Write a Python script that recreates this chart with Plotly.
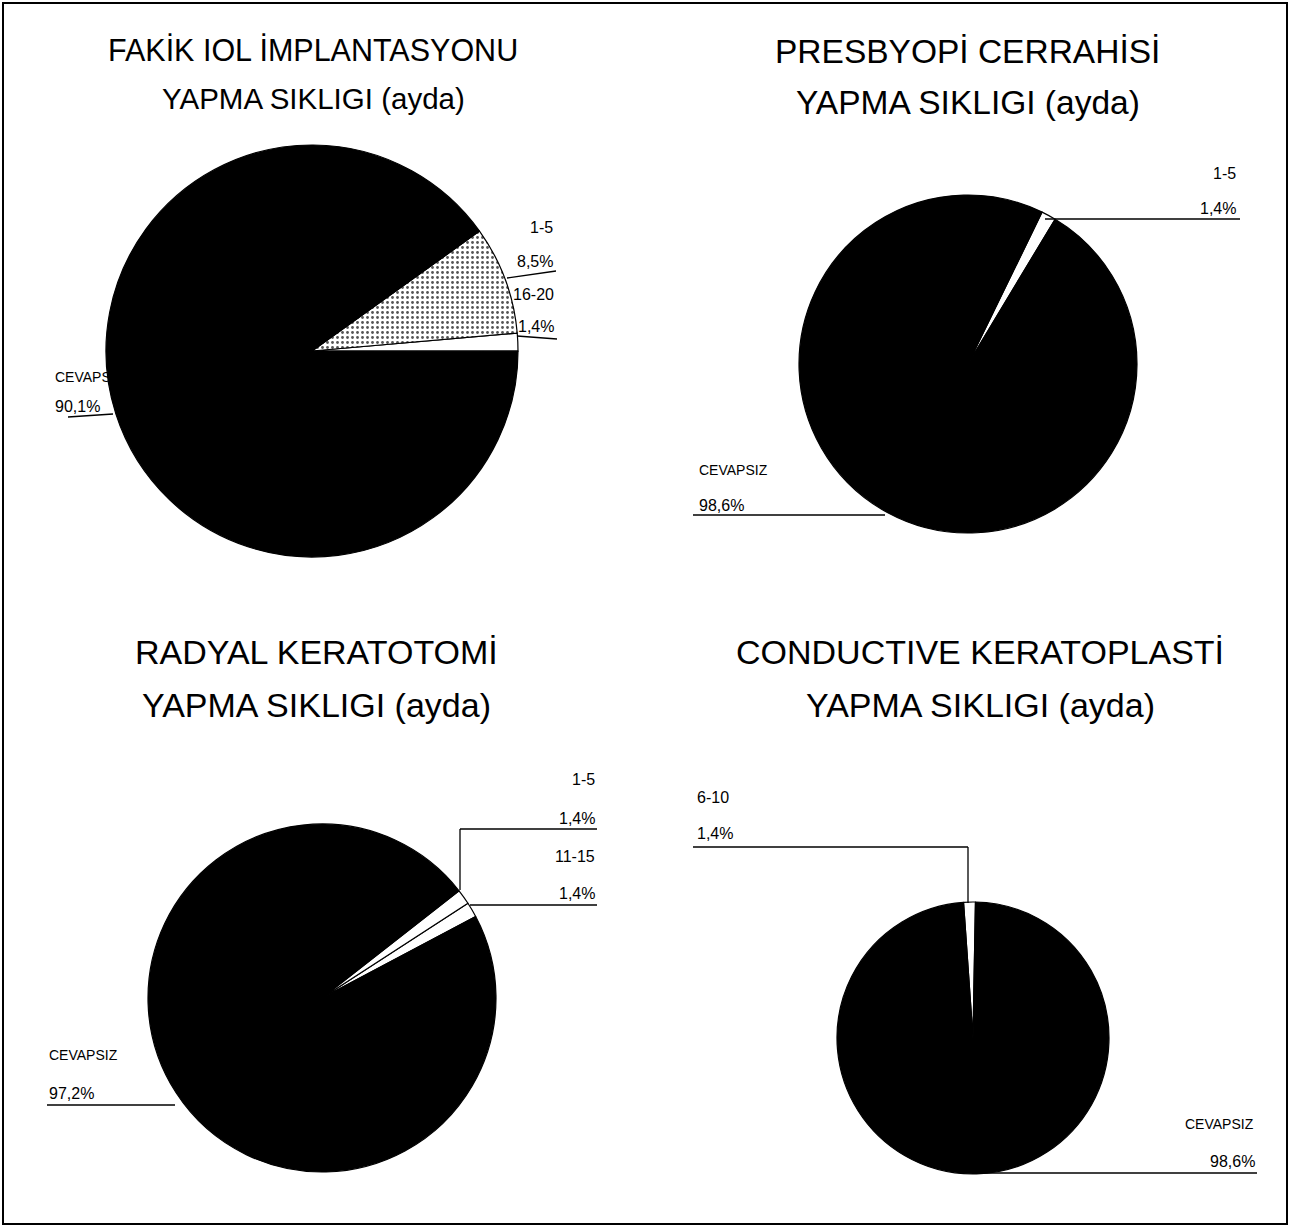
import plotly.graph_objects as go

W, H = 1300, 1227

# ---------------- data ----------------
fakik_labels = ["16-20", "1-5", "CEVAPSIZ"]
fakik_values = [1.4, 8.5, 90.1]
fakik_pct = ["1,4%", "8,5%", "90,1%"]

presb_labels = ["1-5", "CEVAPSIZ"]
presb_values = [1.4, 98.6]
presb_pct = ["1,4%", "98,6%"]

radyal_labels = ["11-15", "1-5", "CEVAPSIZ"]
radyal_values = [1.4, 1.4, 97.2]
radyal_pct = ["1,4%", "1,4%", "97,2%"]

cond_labels = ["6-10", "CEVAPSIZ"]
cond_values = [1.4, 98.6]
cond_pct = ["1,4%", "98,6%"]

title_line1 = ["FAKİK IOL İMPLANTASYONU", "PRESBYOPİ CERRAHİSİ",
               "RADYAL KERATOTOMİ", "CONDUCTIVE KERATOPLASTİ"]
title_line2 = ["YAPMA SIKLIGI (ayda)"] * 4

FONT = "Liberation Sans, Arial, sans-serif"


def px(x):
    return x / W


def py(y):
    return 1 - y / H


def dom(cx, cy, r):
    return dict(x=[px(cx - r), px(cx + r)], y=[py(cy + r), py(cy - r)])


fig = go.Figure()

# pies: (labels, values, center, radius, rotation, colors, patterns)
pies = [
    (fakik_labels, fakik_values, (312, 351), 206, 85,
     ["white", "#b8b8b8", "black"], ["", ".", ""]),
    (presb_labels, presb_values, (968, 364), 169, 26,
     ["white", "black"], ["", ""]),
    (radyal_labels, radyal_values, (322, 998), 174, 57,
     ["white", "white", "black"], ["", "", ""]),
    (cond_labels, cond_values, (973, 1038), 136, -4,
     ["white", "black"], ["", ""]),
]

for labels, values, (cx, cy), r, rot, cols, pats in pies:
    fig.add_trace(go.Pie(
        labels=labels, values=values, sort=False, direction="counterclockwise",
        rotation=rot, domain=dom(cx, cy, r), textinfo="none", hoverinfo="label+percent",
        showlegend=False,
        marker=dict(colors=cols, line=dict(color="black", width=1.2),
                    pattern=dict(shape=pats, fgcolor="#555555", size=5, solidity=0.25)),
    ))

ann = []
shapes = []


def text(x, y, s, anchor, size=16):
    ann.append(dict(x=px(x), y=py(y), xref="paper", yref="paper", text=s,
                    showarrow=False, xanchor=anchor, yanchor="middle",
                    font=dict(family=FONT, size=size, color="black")))


def line(x0, y0, x1, y1, w=1.3):
    shapes.append(dict(type="line", xref="paper", yref="paper", x0=px(x0), y0=py(y0),
                       x1=px(x1), y1=py(y1), line=dict(color="black", width=w)))


# titles: (center x, line1 y, line2 y, size1, size2)
title_pos = [(313, 50, 98, 30.5, 29.5), (968, 52, 102, 33.5, 33.5),
             (316, 652, 705, 34, 34), (980, 652, 705, 34, 34)]
for t1, t2, (x, y1, y2, s1, s2) in zip(title_line1, title_line2, title_pos):
    for t, y, s in ((t1, y1, s1), (t2, y2, s2)):
        ann.append(dict(x=px(x), y=py(y), xref="paper", yref="paper", text=t,
                        showarrow=False, xanchor="center", yanchor="middle",
                        font=dict(family=FONT, size=s, color="black")))

# chart 1 labels
text(555, 227, fakik_labels[1], "right")
text(555, 261, fakik_pct[1], "right")
line(507, 278, 556, 271)
text(556, 294, fakik_labels[0], "right")
text(556, 327, fakik_pct[0], "right")
line(517, 336, 557, 339)
text(53, 377, fakik_labels[2], "left", 14)
text(53, 406, fakik_pct[2], "left")
line(68, 417, 113, 414)

# chart 2 labels
text(1238, 173, presb_labels[0], "right")
text(1238, 208, presb_pct[0], "right")
line(1045, 219, 1240, 219)
text(697, 470, presb_labels[1], "left", 14)
text(697, 505, presb_pct[1], "left")
line(693, 515, 885, 515)

# chart 3 labels
text(597, 779, radyal_labels[1], "right")
text(597, 818, radyal_pct[1], "right")
line(460, 829, 597, 829)
line(460, 829, 460, 890)
text(597, 856, radyal_labels[0], "right")
text(597, 893, radyal_pct[0], "right")
line(470, 905, 597, 905)
text(47, 1055, radyal_labels[2], "left", 14)
text(47, 1093, radyal_pct[2], "left")
line(47, 1105, 175, 1105)

# chart 4 labels
text(695, 797, cond_labels[0], "left")
text(695, 833, cond_pct[0], "left")
line(693, 847, 968, 847)
line(968, 847, 968, 903)
text(1256, 1124, cond_labels[1], "right", 14)
text(1257, 1161, cond_pct[1], "right")
line(975, 1173, 1257, 1173)

# frame
shapes.append(dict(type="rect", xref="paper", yref="paper", x0=px(3), y0=py(1224),
                   x1=px(1287), y1=py(3), line=dict(color="black", width=2)))

fig.update_layout(
    width=W, height=H, margin=dict(l=0, r=0, t=0, b=0),
    paper_bgcolor="white", plot_bgcolor="white",
    annotations=ann, shapes=shapes,
    font=dict(family=FONT),
)

fig.write_html("out.html", config={"displayModeBar": False},
               post_script="document.body.style.margin='0';document.body.style.overflow='hidden';")
